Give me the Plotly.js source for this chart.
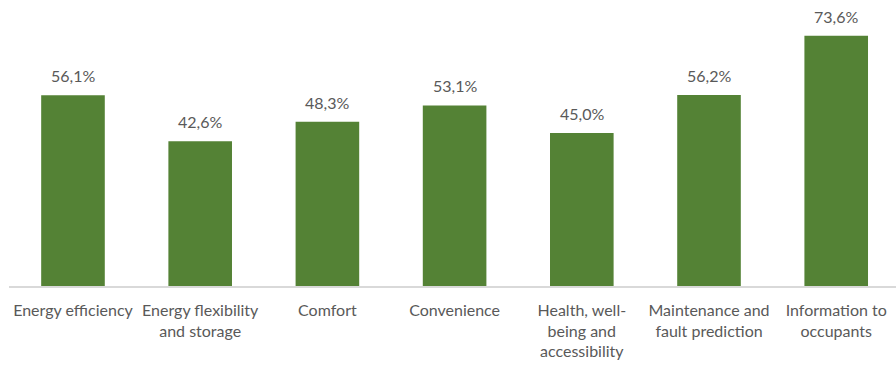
<!DOCTYPE html>
<html>
<head>
<meta charset="utf-8">
<script src="https://cdn.plot.ly/plotly-3.0.1.min.js"></script>
<style>html,body{margin:0;padding:0;background:#fff;}#chart{width:896px;height:365px;}</style>
</head>
<body>
<div id="chart"></div>
<script>
const categories = ["Energy efficiency", "Energy flexibility and storage", "Comfort", "Convenience", "Health, well-being and accessibility", "Maintenance and fault prediction", "Information to occupants"];
const tickLabels = ["Energy efficiency", "Energy flexibility<br>and storage", "Comfort", "Convenience", "Health, well-<br>being and<br>accessibility", "Maintenance and<br>fault prediction", "Information to<br>occupants"];
const values = [56.1, 42.6, 48.3, 53.1, 45.0, 56.2, 73.6];

const fmt = v => v.toFixed(1).replace('.', ',') + '%';

const trace = {
  type: 'bar',
  x: categories,
  y: values,
  marker: {color: '#548235'},
  width: 0.5,
  hoverinfo: 'none'
};

const annotations = categories.map((c, i) => ({
  x: c, y: values[i], xref: 'x', yref: 'y',
  text: fmt(values[i]), showarrow: false,
  yanchor: 'bottom', yshift: 8,
  font: {family: 'Lato, sans-serif', size: 16, color: '#595959'}
}));

const layout = {
  width: 896, height: 365,
  margin: {l: 9, r: 0, t: 14, b: 79},
  paper_bgcolor: '#fff', plot_bgcolor: '#fff',
  showlegend: false,
  bargap: 0.5,
  xaxis: {
    tickmode: 'array', tickvals: categories, ticktext: tickLabels,
    tickfont: {family: 'Lato, sans-serif', size: 16, color: '#595959'},
    range: [-0.503, 6.47],
    showline: true, linecolor: '#d9d9d9', linewidth: 1.5,
    ticks: '', ticklabelstandoff: 9, showgrid: false, zeroline: false, tickangle: 0,
    automargin: false
  },
  yaxis: {
    range: [0, 80], visible: false, showgrid: false, zeroline: false, fixedrange: true
  },
  annotations: annotations
};

Plotly.newPlot('chart', [trace], layout, {staticPlot: true, displayModeBar: false});
</script>
</body>
</html>
